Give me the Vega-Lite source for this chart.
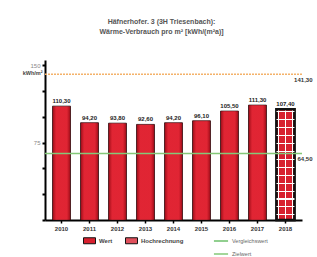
{
  "$schema": "https://vega.github.io/schema/vega-lite/v6.json",
  "width": 257,
  "height": 160,
  "autosize": {"type": "none"},
  "padding": {"left": 45, "top": 60, "right": 15, "bottom": 37},
  "background": "white",
  "config": {
    "font": "Liberation Sans",
    "view": {"stroke": null},
    "locale": {"number": {"decimal": ",", "thousands": ".", "grouping": [3], "currency": ["", " €"]}}
  },
  "title": {
    "text": ["Häfnerhofer. 3 (3H Triesenbach):", "Wärme-Verbrauch pro m² [kWh/(m²a)]"],
    "fontSize": 7,
    "fontWeight": "bold",
    "color": "#555555",
    "lineHeight": 10,
    "anchor": "middle",
    "offset": 25,
    "dx": -12
  },
  "datasets": {
    "bars": [
      {"year": "2010", "value": 110.3, "type": "Wert"},
      {"year": "2011", "value": 94.2, "type": "Wert"},
      {"year": "2012", "value": 93.8, "type": "Wert"},
      {"year": "2013", "value": 92.6, "type": "Wert"},
      {"year": "2014", "value": 94.2, "type": "Wert"},
      {"year": "2015", "value": 96.1, "type": "Wert"},
      {"year": "2016", "value": 105.5, "type": "Wert"},
      {"year": "2017", "value": 111.3, "type": "Wert"},
      {"year": "2018", "value": 107.4, "type": "Hochrechnung"}
    ],
    "lines": [
      {"name": "Grenzwert", "value": 141.3},
      {"name": "Zielwert", "value": 64.5}
    ]
  },
  "data": {"name": "bars"},
  "encoding": {
    "y": {
      "field": "value",
      "type": "quantitative",
      "scale": {"domain": [0, 155], "nice": false},
      "axis": {
        "values": [0, 25, 50, 75, 100, 125, 150],
        "labelExpr": "datum.value == 75 || datum.value == 150 ? datum.label : ''",
        "labelOverlap": false,
        "labelFontSize": 6,
        "labelColor": "#888888",
        "labelPadding": 2,
        "domainColor": "#000000",
        "domainWidth": 2,
        "tickColor": "#000000",
        "tickWidth": 2,
        "tickSize": 3,
        "grid": false,
        "title": "kWh/m²",
        "titleAngle": 0,
        "titleFontSize": 5.5,
        "titleFontWeight": "bold",
        "titleColor": "#444444",
        "titleAlign": "right",
        "titleBaseline": "middle",
        "titleX": -3,
        "titleY": 12
      }
    }
  },
  "layer": [
    {
      "mark": {"type": "bar", "stroke": "#111111"},
      "encoding": {
        "x": {
          "field": "year",
          "type": "nominal",
          "scale": {"paddingInner": 0.36, "paddingOuter": 0.27},
          "axis": {
            "title": null,
            "labelAngle": 0,
            "labelFontSize": 6,
            "labelFontWeight": "bold",
            "labelColor": "#333333",
            "labelPadding": 2,
            "domainColor": "#000000",
            "domainWidth": 2,
            "tickColor": "#000000",
            "tickWidth": 1.5,
            "tickSize": 3
          }
        },
        "fill": {
          "field": "type",
          "type": "nominal",
          "scale": {"domain": ["Wert", "Hochrechnung"], "range": ["#d8202e", "#e0505c"]},
          "legend": {
            "orient": "none",
            "legendX": 38,
            "legendY": 174,
            "direction": "horizontal",
            "title": null,
            "symbolType": "M-1,-0.5H1V0.5H-1Z",
            "symbolSize": 144,
            "symbolStrokeColor": "#111111",
            "symbolStrokeWidth": 1,
            "symbolOpacity": 1,
            "labelFontSize": 6,
            "labelFontWeight": "bold",
            "labelColor": "#444444",
            "columnPadding": 10,
            "labelOffset": 3
          }
        },
        "strokeWidth": {
          "condition": {"test": "datum.type == 'Hochrechnung'", "value": 2.5},
          "value": 0.8
        }
      }
    },
    {
      "transform": [{"filter": "datum.type == 'Wert'"}],
      "mark": {
        "type": "bar",
        "fill": {"gradient": "linear", "x1": 0, "y1": 0, "x2": 1, "y2": 0, "stops": [
          {"offset": 0, "color": "rgba(120,0,10,0.6)"},
          {"offset": 0.2, "color": "rgba(230,40,55,0.6)"},
          {"offset": 0.8, "color": "rgba(230,40,55,0.6)"},
          {"offset": 1, "color": "rgba(120,0,10,0.6)"}
        ]}
      },
      "encoding": {
        "x": {"field": "year", "type": "nominal"}
      }
    },
    {
      "transform": [{"filter": "datum.type == 'Hochrechnung'"}],
      "mark": {
        "type": "bar",
        "fill": {"gradient": "linear", "x1": 0, "y1": 0, "x2": 1, "y2": 0, "stops": [
          {"offset": 0, "color": "#d8202e"},
          {"offset": 0.08, "color": "#d8202e"},
          {"offset": 0.08, "color": "#ffffff"},
          {"offset": 0.15, "color": "#ffffff"},
          {"offset": 0.15, "color": "#d8202e"},
          {"offset": 0.47, "color": "#d8202e"},
          {"offset": 0.47, "color": "#ffffff"},
          {"offset": 0.54, "color": "#ffffff"},
          {"offset": 0.54, "color": "#d8202e"},
          {"offset": 0.85, "color": "#d8202e"},
          {"offset": 0.85, "color": "#ffffff"},
          {"offset": 0.92, "color": "#ffffff"},
          {"offset": 0.92, "color": "#d8202e"},
          {"offset": 1, "color": "#d8202e"}
        ]},
        "stroke": "#111111",
        "strokeWidth": 2.5
      },
      "encoding": {
        "x": {"field": "year", "type": "nominal"}
      }
    },
    {
      "transform": [{"filter": "datum.type == 'Hochrechnung'"}],
      "mark": {
        "type": "bar",
        "fill": {"gradient": "linear", "x1": 0, "y1": 0, "x2": 0, "y2": 1, "stops": [
          {"offset": 0, "color": "rgba(255,255,255,0)"},
          {"offset": 0.02, "color": "rgba(255,255,255,0)"},
          {"offset": 0.02, "color": "#ffffff"},
          {"offset": 0.03, "color": "#ffffff"},
          {"offset": 0.03, "color": "rgba(255,255,255,0)"},
          {"offset": 0.091, "color": "rgba(255,255,255,0)"},
          {"offset": 0.091, "color": "#ffffff"},
          {"offset": 0.101, "color": "#ffffff"},
          {"offset": 0.101, "color": "rgba(255,255,255,0)"},
          {"offset": 0.163, "color": "rgba(255,255,255,0)"},
          {"offset": 0.163, "color": "#ffffff"},
          {"offset": 0.173, "color": "#ffffff"},
          {"offset": 0.173, "color": "rgba(255,255,255,0)"},
          {"offset": 0.234, "color": "rgba(255,255,255,0)"},
          {"offset": 0.234, "color": "#ffffff"},
          {"offset": 0.244, "color": "#ffffff"},
          {"offset": 0.244, "color": "rgba(255,255,255,0)"},
          {"offset": 0.306, "color": "rgba(255,255,255,0)"},
          {"offset": 0.306, "color": "#ffffff"},
          {"offset": 0.316, "color": "#ffffff"},
          {"offset": 0.316, "color": "rgba(255,255,255,0)"},
          {"offset": 0.377, "color": "rgba(255,255,255,0)"},
          {"offset": 0.377, "color": "#ffffff"},
          {"offset": 0.387, "color": "#ffffff"},
          {"offset": 0.387, "color": "rgba(255,255,255,0)"},
          {"offset": 0.449, "color": "rgba(255,255,255,0)"},
          {"offset": 0.449, "color": "#ffffff"},
          {"offset": 0.459, "color": "#ffffff"},
          {"offset": 0.459, "color": "rgba(255,255,255,0)"},
          {"offset": 0.52, "color": "rgba(255,255,255,0)"},
          {"offset": 0.52, "color": "#ffffff"},
          {"offset": 0.53, "color": "#ffffff"},
          {"offset": 0.53, "color": "rgba(255,255,255,0)"},
          {"offset": 0.591, "color": "rgba(255,255,255,0)"},
          {"offset": 0.591, "color": "#ffffff"},
          {"offset": 0.601, "color": "#ffffff"},
          {"offset": 0.601, "color": "rgba(255,255,255,0)"},
          {"offset": 0.663, "color": "rgba(255,255,255,0)"},
          {"offset": 0.663, "color": "#ffffff"},
          {"offset": 0.673, "color": "#ffffff"},
          {"offset": 0.673, "color": "rgba(255,255,255,0)"},
          {"offset": 0.734, "color": "rgba(255,255,255,0)"},
          {"offset": 0.734, "color": "#ffffff"},
          {"offset": 0.744, "color": "#ffffff"},
          {"offset": 0.744, "color": "rgba(255,255,255,0)"},
          {"offset": 0.806, "color": "rgba(255,255,255,0)"},
          {"offset": 0.806, "color": "#ffffff"},
          {"offset": 0.816, "color": "#ffffff"},
          {"offset": 0.816, "color": "rgba(255,255,255,0)"},
          {"offset": 0.877, "color": "rgba(255,255,255,0)"},
          {"offset": 0.877, "color": "#ffffff"},
          {"offset": 0.887, "color": "#ffffff"},
          {"offset": 0.887, "color": "rgba(255,255,255,0)"},
          {"offset": 0.949, "color": "rgba(255,255,255,0)"},
          {"offset": 0.949, "color": "#ffffff"},
          {"offset": 0.959, "color": "#ffffff"},
          {"offset": 0.959, "color": "rgba(255,255,255,0)"},
          {"offset": 1, "color": "rgba(255,255,255,0)"}
        ]}
      },
      "encoding": {
        "x": {"field": "year", "type": "nominal"}
      }
    },
    {
      "mark": {"type": "text", "baseline": "bottom", "dy": -2, "fontSize": 6, "fontWeight": "bold", "color": "#222222"},
      "encoding": {
        "x": {"field": "year", "type": "nominal"},
        "text": {"field": "value", "type": "quantitative", "format": ".2f"}
      }
    },
    {
      "data": {"name": "lines"},
      "transform": [{"filter": "datum.name == 'Grenzwert'"}],
      "mark": {"type": "rule", "color": "#f4b26a", "strokeWidth": 1.5, "strokeDash": [2, 1]},
      "encoding": {}
    },
    {
      "data": {"name": "lines"},
      "transform": [{"filter": "datum.name == 'Zielwert'"}],
      "mark": {"type": "rule", "strokeWidth": 1.5},
      "encoding": {
        "stroke": {
          "field": "name",
          "type": "nominal",
          "scale": {"domain": ["Vergleichswert", "Zielwert"], "range": ["#6cbf6a", "#84c878"]},
          "legend": {
            "orient": "none",
            "legendX": 168,
            "legendY": 173,
            "direction": "vertical",
            "title": null,
            "symbolType": "stroke",
            "symbolStrokeWidth": 1.5,
            "symbolSize": 200,
            "labelFontSize": 5.5,
            "labelColor": "#666666",
            "rowPadding": 1,
            "labelOffset": 3
          }
        }
      }
    },
    {
      "data": {"name": "lines"},
      "mark": {"type": "text", "align": "right", "baseline": "top", "dx": 27, "dy": 3, "fontSize": 6, "fontWeight": "bold", "color": "#333333"},
      "encoding": {
        "x": {"datum": "2018", "type": "nominal"},
        "text": {"field": "value", "type": "quantitative", "format": ".2f"}
      }
    }
  ]
}
